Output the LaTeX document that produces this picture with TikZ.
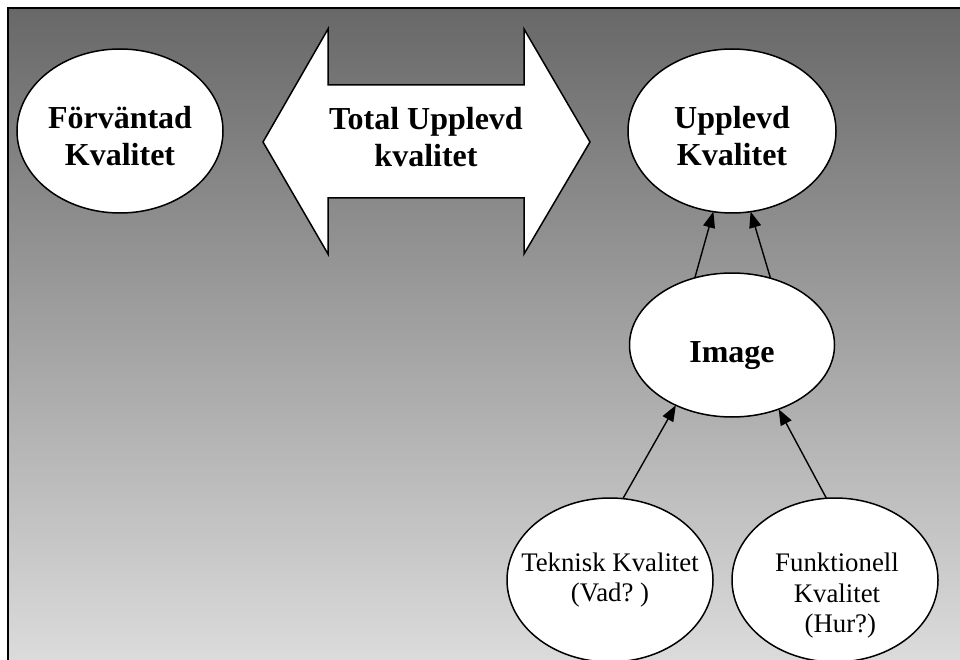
\documentclass[tikz,border=0pt]{standalone}
\usepackage{fontspec}
\setmainfont{Liberation Serif}
\usetikzlibrary{arrows.meta,shapes.geometric}
\definecolor{gtop}{RGB}{104,104,104}
\definecolor{gbot}{RGB}{220,220,220}
\tikzset{
  oval/.style={ellipse,draw=black,fill=white,line width=1.5pt,inner sep=0pt,outer sep=0pt},
  bigtxt/.style={font=\bfseries\fontsize{32}{37}\selectfont,align=center,inner sep=0pt},
  smalltxt/.style={font=\fontsize{26.8}{30.5}\selectfont,align=center,inner sep=0pt},
  conn/.style={line width=1.4pt,-{Triangle[length=16pt,width=12pt]}}
}
\begin{document}
\begin{tikzpicture}[x=1pt,y=-1pt]
\useasboundingbox (0,0) rectangle (960,660);
\clip (0,0) rectangle (960,660);
\fill[white] (0,0) rectangle (960,660);
\shade[top color=gtop,bottom color=gbot] (8,8) rectangle (964,664);
\draw[line width=2.2pt] (8,664) -- (8,8) -- (964,8);

% ellipses
\node[oval,minimum width=206pt,minimum height=164pt] (fv) at (120,131) {};
\node[bigtxt] (fvt) at (120,136) {Förväntad\\Kvalitet};
\node[oval,minimum width=208pt,minimum height=164pt] (up) at (732,131) {};
\node[bigtxt] (upt) at (732,136) {Upplevd\\Kvalitet};
\node[oval,minimum width=205pt,minimum height=144pt] (img) at (732,345) {};
\node[bigtxt] (imgt) at (732,356) {Image};
\node[oval,minimum width=206pt,minimum height=164pt] (tk) at (610,580) {};
\node[smalltxt] (tkt) at (610,580) {Teknisk Kvalitet\\(Vad?~)};
\node[oval,minimum width=206pt,minimum height=164pt] (fk) at (835,580) {};
\node[smalltxt] (fkt) at (837,596) {Funktionell\\Kvalitet\\\ (Hur?)};

% double arrow
\draw[line width=1.5pt,fill=white,line join=miter]
  (263,142) -- (328,29) -- (328,85) -- (524,85) -- (524,29) -- (590,142)
  -- (524,254) -- (524,198) -- (328,198) -- (328,254) -- cycle;
\node[bigtxt] (tot) at (426,137) {Total Upplevd\\kvalitet};

% connectors
\draw[conn] (img.119) -- (up.257);
\draw[conn] (img.60) -- (up.283);
\draw[conn] (tk.81) -- (img.227);
\draw[conn] (fk.96) -- (img.306);
\end{tikzpicture}
\end{document}
